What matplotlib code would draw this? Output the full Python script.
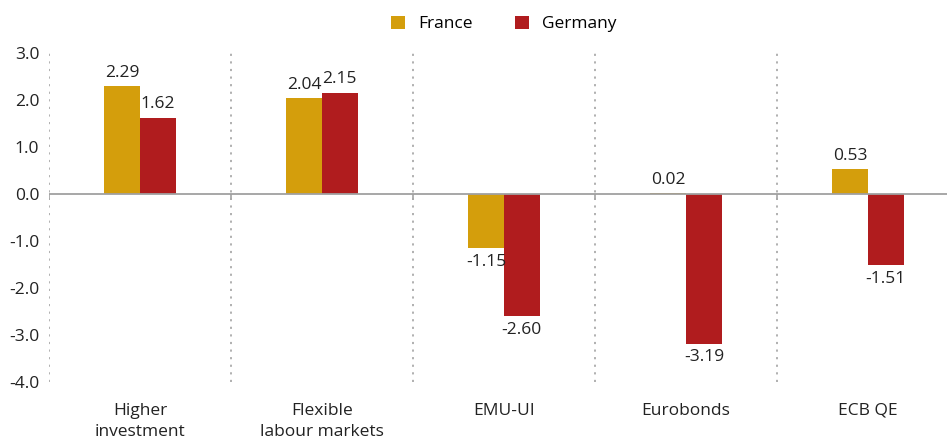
import matplotlib
matplotlib.use("Agg")
import matplotlib.pyplot as plt
import numpy as np

categories = ["Higher\ninvestment", "Flexible\nlabour markets", "EMU-UI", "Eurobonds", "ECB QE"]
france = [2.29, 2.04, -1.15, 0.02, 0.53]
germany = [1.62, 2.15, -2.60, -3.19, -1.51]
series_names = ["France", "Germany"]
yticks = [3.0, 2.0, 1.0, 0.0, -1.0, -2.0, -3.0, -4.0]

plt.rcParams['font.family'] = ['Open Sans', 'DejaVu Sans']
c_fr = "#D49E0C"
c_de = "#B01C1E"

fig = plt.figure(figsize=(9.47, 4.44), dpi=100)
ax = fig.add_axes([49/947, 1-382/444, 1-49/947, (382-53)/444])

x = np.arange(len(categories))
w = 0.196
b1 = ax.bar(x - w/2, france, w, color=c_fr, label=series_names[0], zorder=2)
b2 = ax.bar(x + w/2, germany, w, color=c_de, label=series_names[1], zorder=2)

for bars, vals in ((b1, france), (b2, germany)):
    for rect, v in zip(bars, vals):
        cx = rect.get_x() + rect.get_width()/2
        if v >= 0:
            ax.annotate(f"{v:.2f}", (cx, v), xytext=(0, 4), textcoords="offset points",
                        ha="center", va="bottom", fontsize=12.5, color="#222222")
        else:
            ax.annotate(f"{v:.2f}", (cx, v), xytext=(0, -4), textcoords="offset points",
                        ha="center", va="top", fontsize=12.5, color="#222222")

ax.set_xlim(-0.5, 4.434)
ax.set_ylim(-4.0, 3.0)

for b in np.arange(len(categories)) - 0.5:
    ax.axvline(b, color="#aaaaaa", linestyle=(0, (1.2, 3)), linewidth=1.3, zorder=1)
    ax.vlines(b, -0.13, 0, color="#aaaaaa", linewidth=1.3, zorder=1)
ax.axhline(0, color="#a0a0a0", linewidth=1.3, zorder=3)

for s in ax.spines.values():
    s.set_visible(False)

ax.set_yticks(yticks)
ax.set_yticklabels([f"{t:.1f}".replace("\u2212", "-") for t in yticks], fontsize=12.5, color="#222222")
ax.set_xticks(x)
ax.set_xticklabels(categories, fontsize=12.5, color="#222222", linespacing=1.45)
ax.tick_params(axis="both", length=0)
ax.tick_params(axis="y", pad=7)
ax.tick_params(axis="x", pad=15)

fig.legend(handles=[b1, b2], labels=series_names, loc="upper center", bbox_to_anchor=(0.532, 1.0),
           ncol=2, frameon=False, fontsize=12.5, handlelength=0.8, handleheight=0.8,
           columnspacing=2.4, handletextpad=0.8)

fig.savefig("out.png", dpi=100)
